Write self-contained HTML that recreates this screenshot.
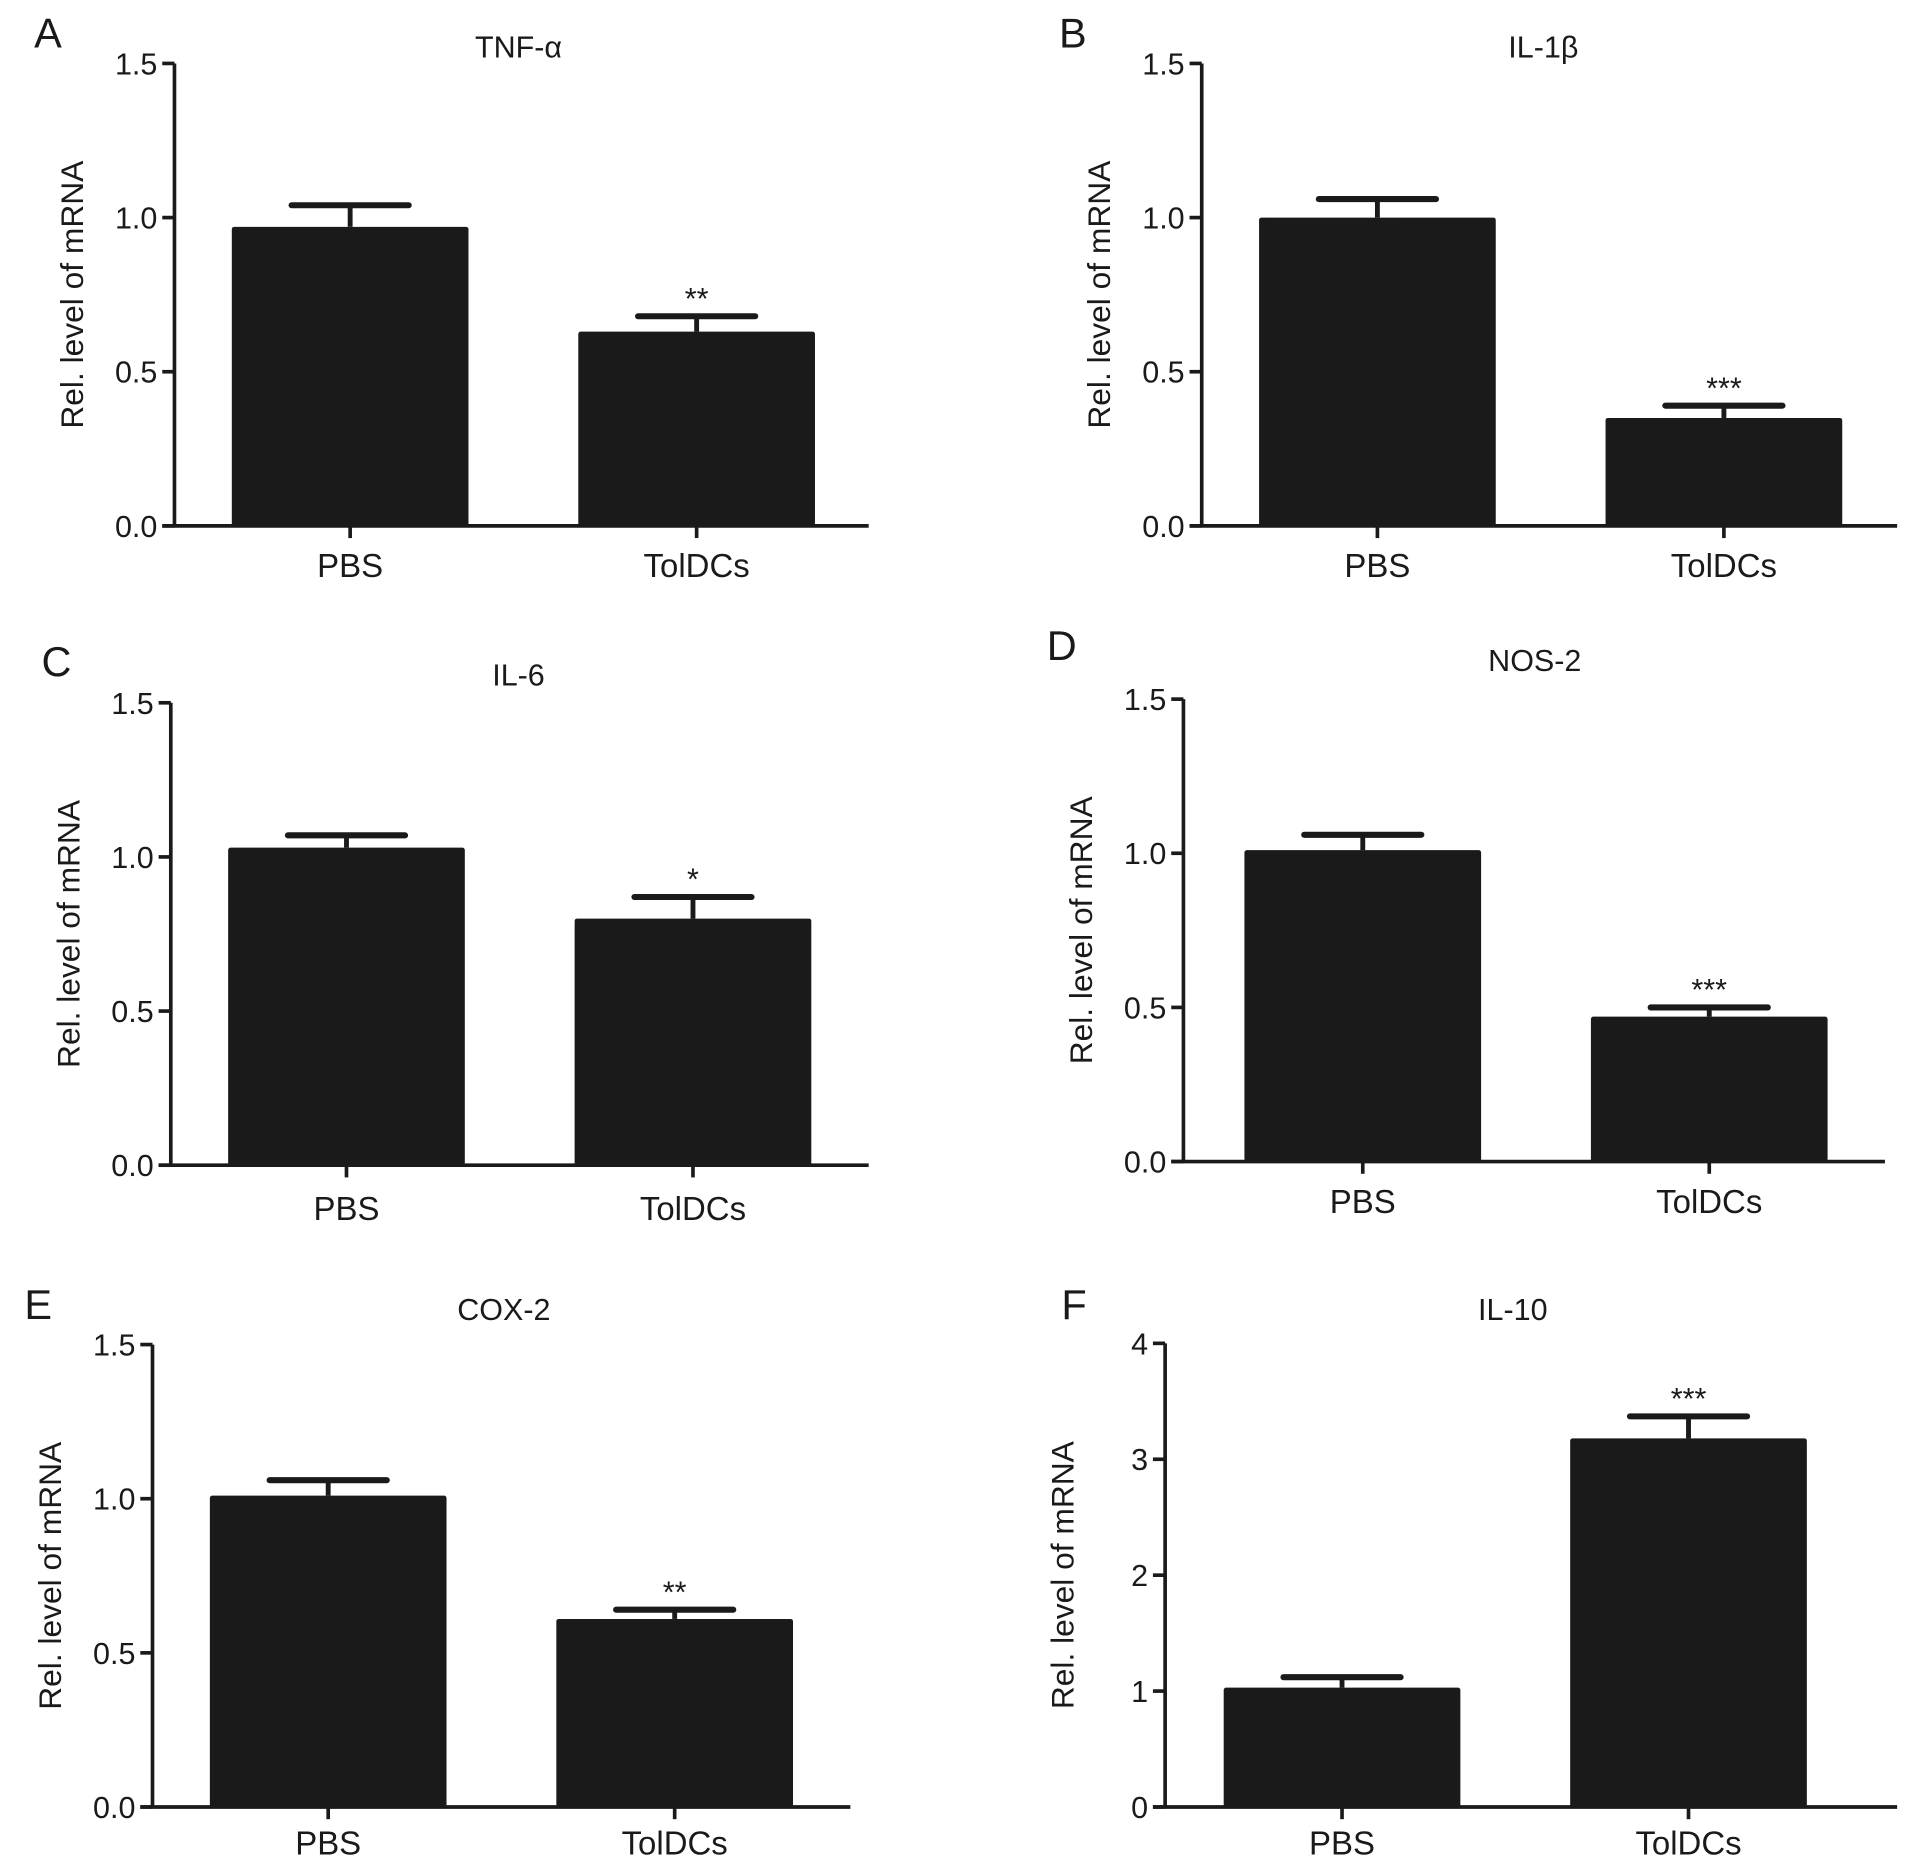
<!DOCTYPE html>
<html><head><meta charset="utf-8"><style>
html,body{margin:0;padding:0;background:#fff}
svg{display:block}
text{font-family:"Liberation Sans",Arial,sans-serif;fill:#1a1a1a}
</style></head><body>
<svg id="fig" width="1913" height="1868" viewBox="0 0 1568 1531" preserveAspectRatio="none" xmlns="http://www.w3.org/2000/svg"></svg>
<script>
const categories = ["PBS", "TolDCs"];
const panelTitles = ["TNF-α", "IL-1β", "IL-6", "NOS-2", "COX-2", "IL-10"];
const panelLetters = ["A", "B", "C", "D", "E", "F"];
const meanValues = [[0.97, 0.63], [1.00, 0.35], [1.03, 0.80], [1.01, 0.47], [1.01, 0.61], [1.03, 3.18]];
const errorValues = [[0.07, 0.05], [0.06, 0.04], [0.04, 0.07], [0.05, 0.03], [0.05, 0.03], [0.09, 0.19]];
const significance = [["", "**"], ["", "***"], ["", "*"], ["", "***"], ["", "**"], ["", "***"]];
const yMaxes = [1.5, 1.5, 1.5, 1.5, 1.5, 4];
const yTickLabels = [["0.0","0.5","1.0","1.5"],["0.0","0.5","1.0","1.5"],["0.0","0.5","1.0","1.5"],["0.0","0.5","1.0","1.5"],["0.0","0.5","1.0","1.5"],["0","1","2","3","4"]];

// layout (not data)
const layouts = [
 {ax:143, top:52, bot:431, xEnd:712, b0:190, title:[425,38], letter:[28,26], lblY:463},
 {ax:985, top:52, bot:431, xEnd:1555, b0:1032, title:[1265,38], letter:[868,26], lblY:463},
 {ax:140, top:576, bot:955, xEnd:712, b0:187, title:[425,553], letter:[34,541], lblY:990},
 {ax:970, top:573, bot:952, xEnd:1545, b0:1020, title:[1258,541], letter:[858,528], lblY:984},
 {ax:125, top:1102, bot:1481, xEnd:697, b0:172, title:[413,1073], letter:[20,1068], lblY:1510},
 {ax:955, top:1101, bot:1481, xEnd:1555, b0:1003, title:[1240,1073], letter:[870,1068], lblY:1510}
];
const NS = "http://www.w3.org/2000/svg";
const svg = document.getElementById("fig");
function mk(tag, attrs, parent, txt){
  const e = document.createElementNS(NS, tag);
  for (const k in attrs) e.setAttribute(k, attrs[k]);
  if (txt !== undefined) e.textContent = txt;
  parent.appendChild(e);
  return e;
}
const barW = 194, spacing = 284;
layouts.forEach((L, p) => {
  const g = mk("g", {}, svg);
  
  
  const yMax = yMaxes[p];
  const y = v => L.bot - (v / yMax) * (L.bot - L.top);
  const xc = i => L.b0 + barW / 2 + i * spacing;
  const letter = mk("text", {x:L.letter[0], y:L.letter[1] + 13, "font-size":34}, g, panelLetters[p]);
  
  
  const t = mk("text", {x:L.title[0], y:L.title[1] + 9, "font-size":25, "text-anchor":"middle"}, g, panelTitles[p]);
  
  
  const yl = mk("text", {x:0, y:0, "font-size":26, "text-anchor":"middle", transform:`translate(${L.ax - 75},${(L.top + L.bot) / 2}) rotate(-90)`}, g, "Rel. level of mRNA");
  
  
  categories.forEach((c, i) => {
    const v = meanValues[p][i], e = errorValues[p][i];
    const cx = xc(i);
    const ev = mk("line", {x1:cx, x2:cx, y1:y(v), y2:y(v + e), stroke:"#1a1a1a", "stroke-width":4}, g);
    
    
    const cap = mk("line", {x1:cx - 48, x2:cx + 48, y1:y(v + e), y2:y(v + e), stroke:"#1a1a1a", "stroke-width":5, "stroke-linecap":"round"}, g);
    
    
    const r = mk("rect", {x:cx - barW / 2, y:y(v), width:barW, height:L.bot - y(v), fill:"#1a1a1a", rx:2}, g);
    
    
    if (significance[p][i]) {
      const s = mk("text", {x:cx, y:y(v + e) - 6, "font-size":25, "text-anchor":"middle"}, g, significance[p][i]);
      
      
    }
    const tk = mk("line", {x1:cx, x2:cx, y1:L.bot, y2:L.bot + 10, stroke:"#1a1a1a", "stroke-width":3}, g);
    
    
    const lb = mk("text", {x:cx, y:L.lblY + 10, "font-size":27, "text-anchor":"middle"}, g, c);
    
    
  });
  const ya = mk("line", {x1:L.ax, x2:L.ax, y1:L.top, y2:L.bot, stroke:"#1a1a1a", "stroke-width":3}, g);
  
  
  const xa = mk("line", {x1:L.ax - 10, x2:L.xEnd, y1:L.bot, y2:L.bot, stroke:"#1a1a1a", "stroke-width":3}, g);
  
  
  const ticks = yTickLabels[p];
  ticks.forEach((lab, k) => {
    const v = yMax * k / (ticks.length - 1);
    const tl = mk("line", {x1:L.ax - 10, x2:L.ax, y1:y(v), y2:y(v), stroke:"#1a1a1a", "stroke-width":3}, g);
    
    
    const tt = mk("text", {x:L.ax - 14, y:y(v) + 9, "font-size":25, "text-anchor":"end"}, g, lab);
    
    
  });
});
</script>
</body></html>
